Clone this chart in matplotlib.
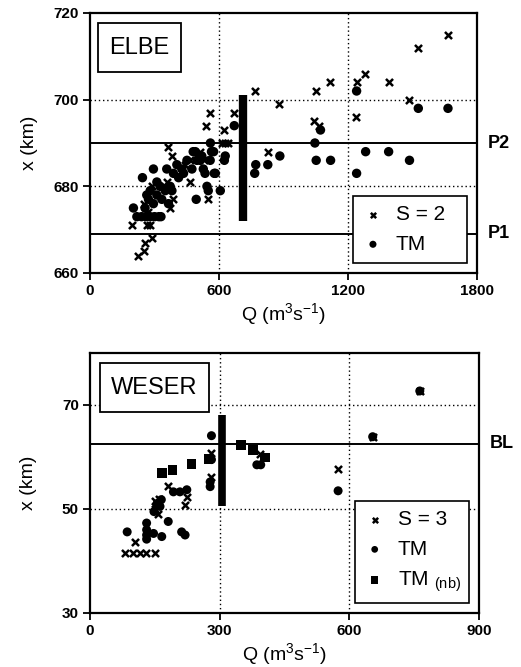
import matplotlib
matplotlib.use("Agg")
import matplotlib.pyplot as plt
from matplotlib.patches import Rectangle
import matplotlib.transforms as mtrans

plt.rcParams['font.family'] = ['Liberation Sans', 'DejaVu Sans']
plt.rcParams['mathtext.fontset'] = 'custom'
plt.rcParams['mathtext.rm'] = 'Liberation Sans'

# ---------------- ELBE data ----------------
elbe_s2_q = [1663, 1526, 1281, 1243, 1389, 1117, 1051, 769, 881, 1484, 1239, 1044, 1065, 671, 828,
             556, 541, 621, 365, 381, 443, 614, 642, 630, 547, 466, 373, 287, 194, 264, 280,
             287, 256, 249, 225, 530, 510, 357, 388, 466, 272, 249]
elbe_s2_x = [715, 712, 706, 704, 704, 704, 702, 702, 699, 700, 696, 695, 694, 697, 688,
             697, 694, 693, 689, 687, 685, 690, 690, 690, 677, 681, 675, 680, 671, 671, 671,
             668, 667, 665, 664, 686, 688, 681, 677, 686, 674, 676]

elbe_tm_q = [771, 766, 827, 883, 1046, 1052, 1119, 1240, 1282, 1389, 1486, 1072, 1240, 1527, 1665, 671,
             560, 565, 629, 625, 490, 497, 527, 535, 583, 544, 550, 606, 494, 295, 244, 357, 388,
             412, 373, 350, 326, 311, 334, 365, 264, 272, 256, 451, 474, 435, 404, 520, 559, 575,
             578, 311, 280, 295, 381, 427, 202, 218, 240, 260, 280, 300, 320, 330, 480, 512]
elbe_tm_x = [685, 683, 685, 687, 690, 686, 686, 683, 688, 688, 686, 693, 702, 698, 698, 694,
             690, 688, 687, 686, 688, 686, 684, 683, 683, 680, 679, 679, 677, 684, 682, 684, 683,
             682, 680, 679, 680, 678, 677, 676, 678, 677, 675, 686, 684, 683, 685, 687, 686, 688,
             683, 681, 679, 676, 679, 684, 675, 673, 673, 673, 673, 673, 673, 673, 688, 686]

elbe_bar_q = 710
elbe_bar_range = (672, 701)
elbe_levels = {'P2': 690, 'P1': 669}

# ---------------- WESER data ----------------
weser_s3_q = [763, 654, 574, 393, 281, 279, 181, 224, 220, 160, 150, 158, 104, 81, 100, 115, 130, 150, 150]
weser_s3_x = [72.7, 63.9, 57.7, 60.6, 60.8, 56.1, 54.4, 52.4, 50.8, 52.0, 50.0, 49.0, 43.7, 41.5, 41.5,
              41.5, 41.5, 41.5, 51.5]

weser_tm_q = [763, 654, 574, 386, 395, 281, 281, 278, 278, 193, 208, 224, 155, 162, 148, 181, 131, 131,
              131, 86, 147, 166, 212, 220, 131, 165]
weser_tm_x = [72.7, 63.9, 53.5, 58.5, 58.5, 64.1, 59.5, 55.2, 54.3, 53.3, 53.3, 53.7, 51.0, 50.5, 49.5,
              47.6, 47.3, 46.0, 45.0, 45.6, 45.3, 44.7, 45.6, 45.0, 44.2, 51.8]

weser_nb_q = [349, 378, 405, 274, 235, 191, 167]
weser_nb_x = [62.3, 61.3, 59.9, 59.6, 58.6, 57.5, 57.0]

weser_bar_q = 305
weser_bar_range = (50.5, 68)
weser_levels = {'BL': 62.5}

# ---------------- figure ----------------
W, H = 521, 667
fig = plt.figure(figsize=(W / 100, H / 100), dpi=100)

ax1 = fig.add_axes([90 / W, 1 - 273 / H, 387 / W, 260 / H])
ax2 = fig.add_axes([90 / W, 1 - 613 / H, 389 / W, 260 / H])

tick_font = dict(fontsize=11, fontweight='bold')


def style_axes(ax, xlim, ylim, xticks, yticks, grid_x, grid_y):
    ax.set_xlim(*xlim)
    ax.set_ylim(*ylim)
    ax.set_xticks(xticks)
    ax.set_yticks(yticks)
    ax.set_xticklabels([str(t) for t in xticks], **tick_font)
    ax.set_yticklabels([str(t) for t in yticks], **tick_font)
    ax.tick_params(direction='out', length=5, width=1.3, pad=3,
                   top=False, right=False)
    for s in ax.spines.values():
        s.set_linewidth(1.6)
    for gx in grid_x:
        ax.axvline(gx, color='black', linestyle=(0, (1, 2)), linewidth=1.0, zorder=1)
    for gy in grid_y:
        ax.axhline(gy, color='black', linestyle=(0, (1, 2)), linewidth=1.0, zorder=1)
    ax.set_xlabel(r'Q (m$^{\mathregular{3}}$s$^{\mathregular{-1}}$)', fontsize=14)
    ax.set_ylabel('x (km)', fontsize=14)
    ax.xaxis.set_label_coords(0.5, -0.11)
    ax.yaxis.set_label_coords(-0.135, 0.5)


# ---- ELBE ----
style_axes(ax1, (0, 1800), (660, 720), [0, 600, 1200, 1800], [660, 680, 700, 720],
           [600, 1200], [680, 700])
for name, lvl in elbe_levels.items():
    ax1.axhline(lvl, color='black', linewidth=1.4, zorder=2)
    ax1.text(1.028, lvl, name, transform=mtrans.blended_transform_factory(ax1.transAxes, ax1.transData),
             fontsize=13, fontweight='bold', va='center', ha='left', clip_on=False)
ax1.vlines(elbe_bar_q, *elbe_bar_range, colors='black', linewidth=6, zorder=3)
ax1.scatter(elbe_s2_q, elbe_s2_x, marker='x', s=26, linewidths=1.8, color='black', zorder=4, label='S = 2')
ax1.scatter(elbe_tm_q, elbe_tm_x, marker='o', s=46, color='black', edgecolors='none', zorder=4, label='TM')

ax1.add_patch(Rectangle((0.021, 0.772), 0.214, 0.189, transform=ax1.transAxes, fill=True,
                        facecolor='white', edgecolor='black', linewidth=1.3, zorder=5))
ax1.text(0.128, 0.866, 'ELBE', transform=ax1.transAxes, fontsize=17, ha='center', va='center', zorder=6)

leg_kw = dict(fontsize=15, frameon=True, fancybox=False, framealpha=1, edgecolor='black',
              borderpad=0.45, labelspacing=0.5, handlelength=1.0, handletextpad=0.6,
              borderaxespad=0, markerscale=0.75, mode='expand', loc='lower left')

leg1 = ax1.legend(bbox_to_anchor=(0.68, 0.038, 0.294, 0.27), **leg_kw)
leg1.get_frame().set_linewidth(1.2)
leg1.set_zorder(7)

# ---- WESER ----
style_axes(ax2, (0, 900), (30, 80), [0, 300, 600, 900], [30, 50, 70],
           [300, 600], [50, 70])
for name, lvl in weser_levels.items():
    ax2.axhline(lvl, color='black', linewidth=1.4, zorder=2)
    ax2.text(1.028, lvl, name, transform=mtrans.blended_transform_factory(ax2.transAxes, ax2.transData),
             fontsize=13, fontweight='bold', va='center', ha='left', clip_on=False)
ax2.vlines(weser_bar_q, *weser_bar_range, colors='black', linewidth=5.5, zorder=3)
ax2.scatter(weser_s3_q, weser_s3_x, marker='x', s=26, linewidths=1.8, color='black', zorder=4, label='S = 3')
ax2.scatter(weser_tm_q, weser_tm_x, marker='o', s=42, color='black', edgecolors='none', zorder=4, label='TM')
ax2.scatter(weser_nb_q, weser_nb_x, marker='s', s=50, color='black', edgecolors='none', zorder=4,
            label=r'TM $\mathregular{_{(nb)}}$')

ax2.add_patch(Rectangle((0.026, 0.773), 0.28, 0.189, transform=ax2.transAxes, fill=True,
                        facecolor='white', edgecolor='black', linewidth=1.3, zorder=5))
ax2.text(0.166, 0.867, 'WESER', transform=ax2.transAxes, fontsize=17, ha='center', va='center', zorder=6)

leg2 = ax2.legend(bbox_to_anchor=(0.681, 0.038, 0.293, 0.385), **leg_kw)
leg2.get_frame().set_linewidth(1.2)
leg2.set_zorder(7)

fig.savefig('out.png', dpi=100)
